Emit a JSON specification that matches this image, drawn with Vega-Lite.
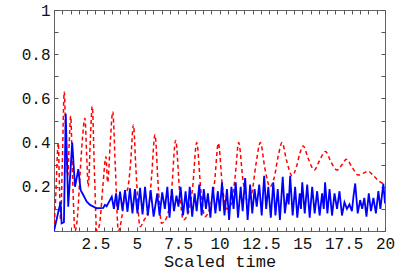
{
  "$schema": "https://vega.github.io/schema/vega-lite/v6.json",
  "width": 331,
  "height": 221,
  "autosize": {"type": "none"},
  "padding": {"left": 54, "top": 10, "right": 29, "bottom": 46},
  "background": "white",
  "config": {
    "view": {"stroke": "#666", "strokeWidth": 1},
    "axis": {
      "labelFont": "Liberation Mono",
      "titleFont": "Liberation Mono",
      "labelFontSize": 16,
      "titleFontSize": 17,
      "titleFontWeight": "normal",
      "labelColor": "#111",
      "titleColor": "#111",
      "domain": false,
      "grid": false,
      "tickColor": "#555",
      "tickWidth": 1
    }
  },
  "datasets": {
    "red": [
      {"t": 0, "v": 0}, {"t": 0.1, "v": 0.15}, {"t": 0.26, "v": 0.4}, {"t": 0.33, "v": 0.2}, {"t": 0.4, "v": 0.05},
      {"t": 0.5, "v": 0.3}, {"t": 0.62, "v": 0.63}, {"t": 0.72, "v": 0.4}, {"t": 0.83, "v": 0.25}, {"t": 0.92, "v": 0.4},
      {"t": 1.01, "v": 0.52}, {"t": 1.12, "v": 0.25}, {"t": 1.27, "v": 0.0}, {"t": 1.4, "v": 0.05}, {"t": 1.57, "v": 0.25},
      {"t": 1.72, "v": 0.42}, {"t": 1.87, "v": 0.51}, {"t": 1.97, "v": 0.35}, {"t": 2.07, "v": 0.2}, {"t": 2.2, "v": 0.42},
      {"t": 2.31, "v": 0.565}, {"t": 2.45, "v": 0.25}, {"t": 2.58, "v": 0.0}, {"t": 2.75, "v": 0.03}, {"t": 2.95, "v": 0.2},
      {"t": 3.14, "v": 0.336}, {"t": 3.24, "v": 0.22}, {"t": 3.4, "v": 0.4}, {"t": 3.55, "v": 0.54}, {"t": 3.7, "v": 0.3},
      {"t": 3.89, "v": 0.0}, {"t": 4.05, "v": 0.04}, {"t": 4.3, "v": 0.17}, {"t": 4.45, "v": 0.19}, {"t": 4.62, "v": 0.3},
      {"t": 4.8, "v": 0.48}, {"t": 4.95, "v": 0.28}, {"t": 5.2, "v": 0.02}, {"t": 5.45, "v": 0.05}, {"t": 5.7, "v": 0.09},
      {"t": 5.9, "v": 0.25}, {"t": 6.1, "v": 0.435}, {"t": 6.3, "v": 0.2}, {"t": 6.5, "v": 0.035}, {"t": 6.8, "v": 0.06},
      {"t": 7.1, "v": 0.18}, {"t": 7.35, "v": 0.41}, {"t": 7.6, "v": 0.17}, {"t": 7.81, "v": 0.05}, {"t": 8.1, "v": 0.08},
      {"t": 8.38, "v": 0.2}, {"t": 8.62, "v": 0.4}, {"t": 8.88, "v": 0.18}, {"t": 9.12, "v": 0.065}, {"t": 9.4, "v": 0.1},
      {"t": 9.7, "v": 0.22}, {"t": 9.93, "v": 0.397}, {"t": 10.18, "v": 0.2}, {"t": 10.43, "v": 0.1}, {"t": 10.7, "v": 0.12},
      {"t": 10.95, "v": 0.25}, {"t": 11.16, "v": 0.4}, {"t": 11.42, "v": 0.23}, {"t": 11.7, "v": 0.135}, {"t": 11.95, "v": 0.17},
      {"t": 12.2, "v": 0.3}, {"t": 12.47, "v": 0.4}, {"t": 12.75, "v": 0.28}, {"t": 13.05, "v": 0.2}, {"t": 13.3, "v": 0.24},
      {"t": 13.55, "v": 0.34}, {"t": 13.78, "v": 0.4}, {"t": 14.05, "v": 0.32}, {"t": 14.38, "v": 0.25}, {"t": 14.65, "v": 0.29},
      {"t": 14.85, "v": 0.35}, {"t": 15.06, "v": 0.385}, {"t": 15.35, "v": 0.33}, {"t": 15.73, "v": 0.276}, {"t": 16.05, "v": 0.32},
      {"t": 16.4, "v": 0.36}, {"t": 16.75, "v": 0.31}, {"t": 17.1, "v": 0.276}, {"t": 17.4, "v": 0.3}, {"t": 17.67, "v": 0.325},
      {"t": 18.0, "v": 0.29}, {"t": 18.39, "v": 0.253}, {"t": 18.7, "v": 0.262}, {"t": 18.99, "v": 0.27}, {"t": 19.3, "v": 0.25},
      {"t": 19.65, "v": 0.225}, {"t": 20, "v": 0.21}
    ],
    "blue": [
      {"t": 0, "v": 0}, {"t": 0.15, "v": 0.05}, {"t": 0.3, "v": 0.1}, {"t": 0.4, "v": 0.13}, {"t": 0.46, "v": 0.035},
      {"t": 0.6, "v": 0.04}, {"t": 0.71, "v": 0.53}, {"t": 0.86, "v": 0.11}, {"t": 1.1, "v": 0.4}, {"t": 1.27, "v": 0.2},
      {"t": 1.47, "v": 0.28}, {"t": 1.61, "v": 0.185}, {"t": 1.77, "v": 0.163}, {"t": 1.98, "v": 0.133}, {"t": 2.18, "v": 0.118},
      {"t": 2.58, "v": 0.103}, {"t": 2.98, "v": 0.105}, {"t": 3.08, "v": 0.118}, {"t": 3.18, "v": 0.112}, {"t": 3.38, "v": 0.14},
      {"t": 3.49, "v": 0.155}, {"t": 3.62, "v": 0.1}, {"t": 3.75, "v": 0.17}, {"t": 3.86, "v": 0.095}, {"t": 3.99, "v": 0.178},
      {"t": 4.14, "v": 0.092}, {"t": 4.29, "v": 0.185}, {"t": 4.44, "v": 0.087}, {"t": 4.59, "v": 0.193}, {"t": 4.74, "v": 0.08},
      {"t": 4.89, "v": 0.19}, {"t": 5.04, "v": 0.08}, {"t": 5.2, "v": 0.195}, {"t": 5.35, "v": 0.075}, {"t": 5.5, "v": 0.2},
      {"t": 5.67, "v": 0.07}, {"t": 5.84, "v": 0.185}, {"t": 6.02, "v": 0.065}, {"t": 6.24, "v": 0.17}, {"t": 6.38, "v": 0.07},
      {"t": 6.54, "v": 0.175}, {"t": 6.7, "v": 0.1}, {"t": 6.85, "v": 0.2}, {"t": 6.98, "v": 0.06}, {"t": 7.12, "v": 0.19},
      {"t": 7.25, "v": 0.09}, {"t": 7.4, "v": 0.16}, {"t": 7.52, "v": 0.11}, {"t": 7.65, "v": 0.2}, {"t": 7.8, "v": 0.07},
      {"t": 7.95, "v": 0.18}, {"t": 8.08, "v": 0.08}, {"t": 8.2, "v": 0.2}, {"t": 8.35, "v": 0.065}, {"t": 8.5, "v": 0.17},
      {"t": 8.62, "v": 0.09}, {"t": 8.78, "v": 0.21}, {"t": 8.92, "v": 0.07}, {"t": 9.05, "v": 0.19}, {"t": 9.18, "v": 0.1},
      {"t": 9.3, "v": 0.17}, {"t": 9.45, "v": 0.06}, {"t": 9.6, "v": 0.2}, {"t": 9.75, "v": 0.08}, {"t": 9.9, "v": 0.18},
      {"t": 10.02, "v": 0.09}, {"t": 10.15, "v": 0.22}, {"t": 10.3, "v": 0.07}, {"t": 10.45, "v": 0.19}, {"t": 10.58, "v": 0.05},
      {"t": 10.72, "v": 0.2}, {"t": 10.85, "v": 0.1}, {"t": 10.98, "v": 0.22}, {"t": 11.12, "v": 0.06}, {"t": 11.28, "v": 0.2},
      {"t": 11.4, "v": 0.09}, {"t": 11.55, "v": 0.24}, {"t": 11.7, "v": 0.05}, {"t": 11.85, "v": 0.21}, {"t": 11.98, "v": 0.08},
      {"t": 12.12, "v": 0.19}, {"t": 12.25, "v": 0.11}, {"t": 12.4, "v": 0.21}, {"t": 12.55, "v": 0.07}, {"t": 12.7, "v": 0.25},
      {"t": 12.82, "v": 0.1}, {"t": 12.95, "v": 0.2}, {"t": 13.1, "v": 0.06}, {"t": 13.25, "v": 0.22}, {"t": 13.38, "v": 0.07},
      {"t": 13.52, "v": 0.19}, {"t": 13.65, "v": 0.05}, {"t": 13.82, "v": 0.245}, {"t": 13.95, "v": 0.08}, {"t": 14.1, "v": 0.17},
      {"t": 14.18, "v": 0.12}, {"t": 14.27, "v": 0.25}, {"t": 14.42, "v": 0.07}, {"t": 14.57, "v": 0.2}, {"t": 14.7, "v": 0.06},
      {"t": 14.85, "v": 0.17}, {"t": 14.92, "v": 0.1}, {"t": 15.0, "v": 0.22}, {"t": 15.15, "v": 0.08}, {"t": 15.3, "v": 0.21},
      {"t": 15.45, "v": 0.06}, {"t": 15.6, "v": 0.2}, {"t": 15.75, "v": 0.08}, {"t": 15.9, "v": 0.18}, {"t": 16.05, "v": 0.07},
      {"t": 16.2, "v": 0.17}, {"t": 16.3, "v": 0.1}, {"t": 16.38, "v": 0.22}, {"t": 16.52, "v": 0.08}, {"t": 16.65, "v": 0.19},
      {"t": 16.8, "v": 0.07}, {"t": 16.95, "v": 0.17}, {"t": 17.1, "v": 0.1}, {"t": 17.25, "v": 0.18}, {"t": 17.4, "v": 0.07},
      {"t": 17.55, "v": 0.13}, {"t": 17.7, "v": 0.1}, {"t": 17.85, "v": 0.12}, {"t": 18.0, "v": 0.09}, {"t": 18.1, "v": 0.16},
      {"t": 18.2, "v": 0.215}, {"t": 18.35, "v": 0.08}, {"t": 18.5, "v": 0.14}, {"t": 18.62, "v": 0.1}, {"t": 18.75, "v": 0.15},
      {"t": 18.88, "v": 0.065}, {"t": 19.02, "v": 0.17}, {"t": 19.15, "v": 0.09}, {"t": 19.3, "v": 0.15}, {"t": 19.45, "v": 0.08},
      {"t": 19.6, "v": 0.18}, {"t": 19.72, "v": 0.1}, {"t": 19.9, "v": 0.215}, {"t": 20, "v": 0.125}
    ]
  },
  "layer": [
    {
      "data": {"name": "red"},
      "mark": {"type": "line", "color": "#ff0000", "strokeDash": [4, 3], "strokeWidth": 1.5, "interpolate": "monotone", "clip": true},
      "encoding": {
        "x": {
          "field": "t", "type": "quantitative",
          "scale": {"domain": [0, 20], "nice": false, "zero": false},
          "axis": {
            "orient": "bottom",
            "title": "Scaled time",
            "values": [0,0.5,1,1.5,2,2.5,3,3.5,4,4.5,5,5.5,6,6.5,7,7.5,8,8.5,9,9.5,10,10.5,11,11.5,12,12.5,13,13.5,14,14.5,15,15.5,16,16.5,17,17.5,18,18.5,19,19.5,20],
            "labelExpr": "datum.value > 0 && abs(datum.value/2.5 - round(datum.value/2.5)) < 1e-6 ? (datum.value % 1 == 0 ? format(datum.value, 'd') : format(datum.value, '.1f')) : ''",
            "tickSize": -4,
            "labelPadding": 8,
            "labelFlush": false,
            "labelOverlap": false,
            "titlePadding": 2
          }
        },
        "y": {
          "field": "v", "type": "quantitative",
          "scale": {"domain": [0, 1], "nice": false},
          "axis": {
            "orient": "left",
            "title": null,
            "values": [0,0.1,0.2,0.3,0.4,0.5,0.6,0.7,0.8,0.9,1],
            "labelExpr": "datum.value > 0.99 ? '1' : (datum.value > 0 && abs(datum.value*5 - round(datum.value*5)) < 1e-6 ? format(datum.value, '.1f') : '')",
            "tickSize": -4,
            "labelPadding": 8,
            "labelFlush": false,
            "labelOverlap": false
          }
        }
      }
    },
    {
      "data": {"name": "blue"},
      "mark": {"type": "line", "color": "#0000ff", "strokeWidth": 1.8, "clip": true},
      "encoding": {
        "x": {
          "field": "t", "type": "quantitative",
          "scale": {"domain": [0, 20], "nice": false, "zero": false},
          "axis": {
            "orient": "top", "title": null, "labels": false,
            "values": [0,0.5,1,1.5,2,2.5,3,3.5,4,4.5,5,5.5,6,6.5,7,7.5,8,8.5,9,9.5,10,10.5,11,11.5,12,12.5,13,13.5,14,14.5,15,15.5,16,16.5,17,17.5,18,18.5,19,19.5,20],
            "tickSize": -4
          }
        },
        "y": {
          "field": "v", "type": "quantitative",
          "scale": {"domain": [0, 1], "nice": false},
          "axis": {
            "orient": "right", "title": null, "labels": false,
            "values": [0,0.1,0.2,0.3,0.4,0.5,0.6,0.7,0.8,0.9,1],
            "tickSize": -4
          }
        }
      }
    }
  ],
  "resolve": {"axis": {"x": "independent", "y": "independent"}}
}
